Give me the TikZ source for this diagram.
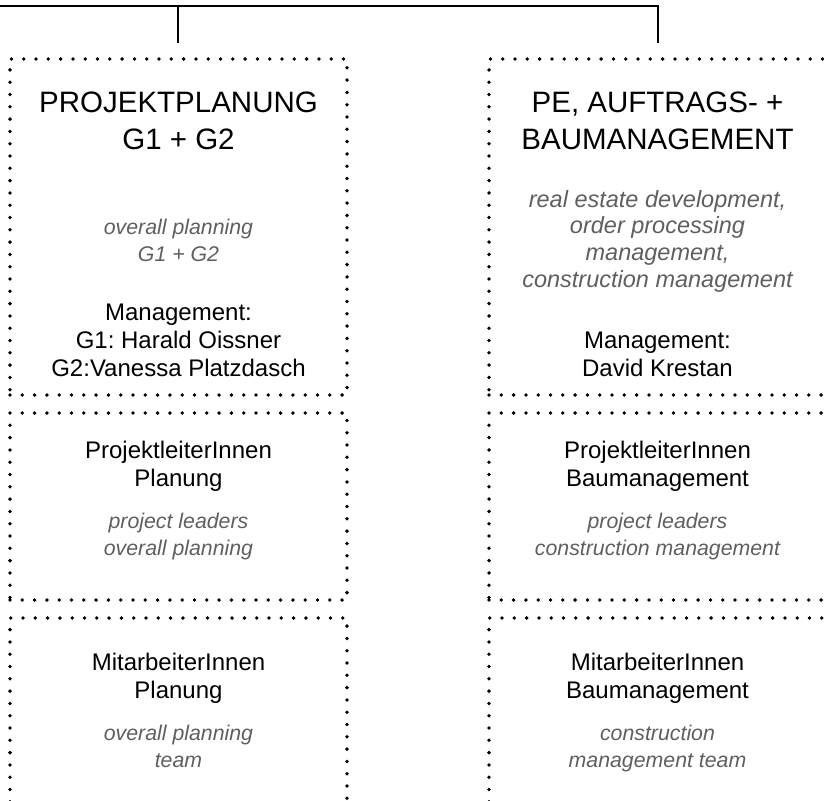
\documentclass[tikz,border=0pt]{standalone}
\usepackage{fontspec}
\setmainfont{Liberation Sans}
\definecolor{subgray}{HTML}{5F5F5F}
\frenchspacing
\begin{document}
\begin{tikzpicture}[x=1pt,y=-1pt,
  dotbox/.style={draw, line width=3.8pt, line cap=round, dash pattern=on 0pt off 12.3pt,
    rectangle, inner sep=0pt, outer sep=0pt, anchor=north west, minimum width=337pt},
  ttl/.style={font=\fontsize{29.5}{36}\selectfont, anchor=base, inner sep=0pt},
  bdy/.style={font=\fontsize{24}{28}\selectfont, anchor=base, inner sep=0pt},
  sub/.style={font=\fontsize{21.3}{26.7}\selectfont\itshape, text=subgray, anchor=base, inner sep=0pt},
  subb/.style={sub, font=\fontsize{23.5}{26.7}\selectfont\itshape},
  conn/.style={line width=1.2pt}]
\useasboundingbox (0,0) rectangle (824,800);
\clip (0,0) rectangle (824,800);
% boxes
\node[dotbox, minimum height=336pt] (boxL1) at (10,59) {};
\node[dotbox, minimum height=187pt] (boxL2) at (10,413) {};
\node[dotbox, minimum height=200pt] (boxL3) at (10,618) {};
\node[dotbox, minimum height=336pt] (boxR1) at (489,59) {};
\node[dotbox, minimum height=187pt] (boxR2) at (489,413) {};
\node[dotbox, minimum height=200pt] (boxR3) at (489,618) {};
% connectors
\coordinate (busL) at (0,6);
\coordinate (busR) at (658,6);
\coordinate (tap1) at (178,6);
\coordinate (drop1) at (178,43);
\coordinate (drop2) at (658,43);
\draw[conn] (busL) -- (busR) -- (drop2);
\draw[conn] (tap1) -- (drop1);
% left box 1
\node[ttl] (l1t1) at (178.5,112) {PROJEKTPLANUNG};
\node[ttl] (l1t2) at (178.5,149) {G1 + G2};
\node[sub] (l1s1) at (178.5,234) {overall planning};
\node[sub] (l1s2) at (178.5,261) {G1 + G2};
\node[bdy] (l1b1) at (178.5,320) {Management:};
\node[bdy] (l1b2) at (178.5,348) {G1: Harald Oissner};
\node[bdy] (l1b3) at (178.5,376) {G2:Vanessa Platzdasch};
% right box 1
\node[ttl] (r1t1) at (657.5,112) {PE, AUFTRAGS- +};
\node[ttl] (r1t2) at (657.5,149) {BAUMANAGEMENT};
\node[subb] (r1s1) at (657.5,207) {real estate development,};
\node[subb] (r1s2) at (657.5,233.5) {order processing};
\node[subb] (r1s3) at (657.5,260) {management,};
\node[subb] (r1s4) at (657.5,287) {construction management};
\node[bdy] (r1b1) at (657.5,348) {Management:};
\node[bdy] (r1b2) at (657.5,376) {David Krestan};
% left box 2
\node[bdy] (l2b1) at (178.5,458) {ProjektleiterInnen};
\node[bdy] (l2b2) at (178.5,486) {Planung};
\node[sub] (l2s1) at (178.5,528) {project leaders};
\node[sub] (l2s2) at (178.5,555) {overall planning};
% right box 2
\node[bdy] (r2b1) at (657.5,458) {ProjektleiterInnen};
\node[bdy] (r2b2) at (657.5,486) {Baumanagement};
\node[sub] (r2s1) at (657.5,528) {project leaders};
\node[sub] (r2s2) at (657.5,555) {construction management};
% left box 3
\node[bdy] (l3b1) at (178.5,670) {MitarbeiterInnen};
\node[bdy] (l3b2) at (178.5,698) {Planung};
\node[sub] (l3s1) at (178.5,740) {overall planning};
\node[sub] (l3s2) at (178.5,767) {team};
% right box 3
\node[bdy] (r3b1) at (657.5,670) {MitarbeiterInnen};
\node[bdy] (r3b2) at (657.5,698) {Baumanagement};
\node[sub] (r3s1) at (657.5,740) {construction};
\node[sub] (r3s2) at (657.5,767) {management team};
\end{tikzpicture}
\end{document}
